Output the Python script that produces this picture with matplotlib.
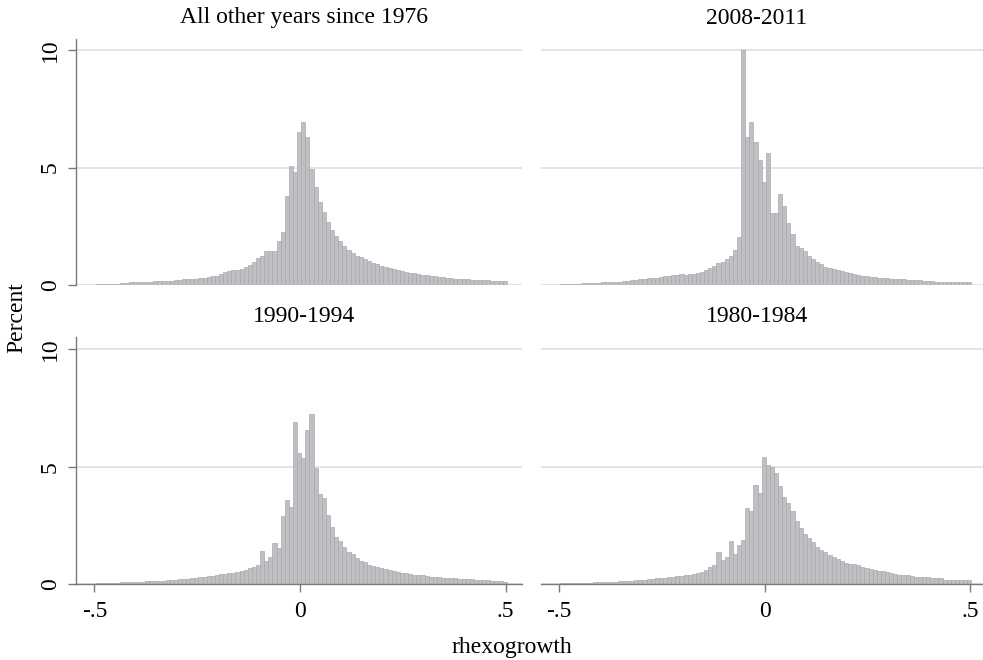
import numpy as np
import matplotlib
matplotlib.use("Agg")
import matplotlib.pyplot as plt

# ---------------- data (percent per bin of width 0.01) ----------------
bin_start = -0.497
bin_width = 0.01

titles = ["All other years since 1976", "2008-2011", "1990-1994", "1980-1984"]

pct_other = [
    0.04, 0.04, 0.04, 0.04, 0.04, 0.04, 0.10, 0.10, 0.11, 0.11,
    0.11, 0.12, 0.12, 0.13, 0.16, 0.17, 0.18, 0.18, 0.19, 0.21,
    0.22, 0.24, 0.24, 0.25, 0.26, 0.29, 0.31, 0.35, 0.38, 0.40,
    0.47, 0.55, 0.58, 0.62, 0.65, 0.70, 0.76, 0.87, 0.99, 1.13,
    1.23, 1.43, 1.44, 1.45, 1.89, 2.27, 3.80, 5.05, 4.80, 6.52,
    6.95, 6.30, 4.95, 4.15, 3.55, 3.10, 2.68, 2.35, 2.10, 1.87,
    1.67, 1.49, 1.35, 1.25, 1.18, 1.10, 1.03, 0.94, 0.88, 0.82,
    0.78, 0.74, 0.70, 0.65, 0.61, 0.57, 0.53, 0.49, 0.46, 0.43,
    0.41, 0.39, 0.37, 0.34, 0.32, 0.30, 0.28, 0.27, 0.26, 0.25,
    0.24, 0.23, 0.22, 0.21, 0.20, 0.20, 0.19, 0.19, 0.18, 0.15,
]

pct_2008 = [
    0.04, 0.04, 0.04, 0.04, 0.04, 0.09, 0.10, 0.10, 0.10, 0.10,
    0.11, 0.11, 0.12, 0.12, 0.14, 0.15, 0.17, 0.20, 0.22, 0.24,
    0.26, 0.28, 0.28, 0.30, 0.35, 0.37, 0.38, 0.41, 0.43, 0.46,
    0.42, 0.45, 0.48, 0.50, 0.55, 0.62, 0.72, 0.82, 0.92, 1.00,
    1.10, 1.22, 1.50, 2.05, 10.0, 6.31, 6.95, 6.10, 5.30, 4.40,
    5.63, 3.05, 3.05, 3.87, 3.38, 2.65, 2.18, 1.68, 1.56, 1.46,
    1.23, 1.09, 0.96, 0.88, 0.78, 0.74, 0.67, 0.62, 0.58, 0.55,
    0.51, 0.48, 0.43, 0.40, 0.37, 0.35, 0.33, 0.31, 0.30, 0.29,
    0.27, 0.25, 0.24, 0.24, 0.23, 0.23, 0.22, 0.21, 0.19, 0.18,
    0.17, 0.14, 0.14, 0.13, 0.13, 0.13, 0.12, 0.12, 0.12, 0.11,
]

pct_1990 = [
    0.04, 0.04, 0.04, 0.04, 0.04, 0.04, 0.10, 0.10, 0.10, 0.11,
    0.11, 0.11, 0.12, 0.12, 0.13, 0.15, 0.16, 0.17, 0.17, 0.18,
    0.21, 0.22, 0.23, 0.26, 0.28, 0.29, 0.33, 0.36, 0.37, 0.40,
    0.43, 0.44, 0.47, 0.49, 0.52, 0.55, 0.62, 0.68, 0.75, 0.83,
    1.40, 0.99, 1.15, 1.76, 1.55, 2.90, 3.58, 3.30, 6.90, 5.58,
    5.36, 6.55, 7.23, 4.95, 3.82, 3.66, 2.95, 2.45, 2.02, 1.84,
    1.57, 1.39, 1.28, 1.11, 1.01, 0.94, 0.83, 0.77, 0.74, 0.69,
    0.66, 0.60, 0.56, 0.54, 0.50, 0.47, 0.44, 0.41, 0.40, 0.38,
    0.34, 0.33, 0.32, 0.31, 0.28, 0.27, 0.26, 0.25, 0.23, 0.23,
    0.22, 0.21, 0.18, 0.17, 0.17, 0.17, 0.16, 0.16, 0.12, 0.10,
]

pct_1980 = [
    0.04, 0.04, 0.04, 0.04, 0.04, 0.04, 0.04, 0.04, 0.10, 0.10,
    0.10, 0.10, 0.10, 0.11, 0.13, 0.14, 0.15, 0.16, 0.17, 0.19,
    0.20, 0.22, 0.23, 0.25, 0.27, 0.28, 0.30, 0.32, 0.34, 0.36,
    0.38, 0.40, 0.45, 0.49, 0.53, 0.60, 0.74, 0.80, 1.38, 1.03,
    1.14, 1.84, 1.30, 1.67, 1.88, 3.26, 3.13, 4.23, 3.90, 5.41,
    5.08, 4.98, 4.73, 4.16, 3.73, 3.45, 3.10, 2.70, 2.40, 2.15,
    1.95, 1.80, 1.60, 1.47, 1.36, 1.25, 1.15, 1.08, 1.00, 0.92,
    0.88, 0.85, 0.80, 0.72, 0.70, 0.66, 0.62, 0.58, 0.55, 0.52,
    0.46, 0.44, 0.41, 0.40, 0.38, 0.34, 0.33, 0.33, 0.32, 0.30,
    0.28, 0.27, 0.25, 0.20, 0.20, 0.19, 0.19, 0.18, 0.18, 0.17,
]

series = [pct_other, pct_2008, pct_1990, pct_1980]

y_ticks = [0, 5, 10]
y_ticklabels = ["0", "5", "10"]
x_ticks = [-0.5, 0, 0.5]
x_ticklabels = ["-.5", "0", ".5"]
x_label = "rhexogrowth"
y_label = "Percent"

# ---------------- style ----------------
plt.rcParams['font.family'] = ['Liberation Serif', 'DejaVu Serif']
FS = 17
BAR_FACE = '#bfc0c4'
BAR_EDGE = '#a9aaae'
GRID = '#e2e2e2'
AXC = '#7a7a7a'

W, H = 983, 660
fig = plt.figure(figsize=(W / 100, H / 100), dpi=100)
fig.patch.set_facecolor('white')

panel_w = 446
lefts = [76, 540.5, 76, 540.5]
tops = [39, 39, 336.7, 336.7]
bottoms = [285, 285, 584.3, 584.3]
ytops = [10.47, 10.47, 10.53, 10.53]
title_x = [304, 757, 304, 757]
title_y = [18, 18, 317, 317]

edges = bin_start + bin_width * np.arange(len(pct_other))

for k in range(4):
    l, t, b = lefts[k], tops[k], bottoms[k]
    ax = fig.add_axes([l / W, (H - b) / H, panel_w / W, (b - t) / H])
    ax.set_xlim(-0.545, 0.54)
    ax.set_ylim(0, ytops[k])
    for yv in y_ticks:
        ax.axhline(yv, color=GRID, lw=1.3, zorder=0)
    ax.bar(edges, series[k], width=bin_width, align='edge',
           color=BAR_FACE, edgecolor=BAR_EDGE, linewidth=0.5, zorder=2)
    for s in ['top', 'right']:
        ax.spines[s].set_visible(False)
    is_left = (k % 2 == 0)
    is_bottom = (k >= 2)
    if is_left:
        ax.spines['left'].set_color(AXC)
        ax.spines['left'].set_linewidth(1.0)
        ax.set_yticks(y_ticks)
        ax.set_yticklabels(y_ticklabels, rotation=90, va='center', fontsize=FS)
        ax.tick_params(axis='y', length=6, width=1.0, color=AXC, pad=5)
    else:
        ax.spines['left'].set_visible(False)
        ax.set_yticks([])
    if is_bottom:
        ax.spines['bottom'].set_color(AXC)
        ax.spines['bottom'].set_linewidth(1.0)
        ax.set_xticks(x_ticks)
        ax.set_xticklabels(x_ticklabels, fontsize=FS)
        ax.tick_params(axis='x', length=6, width=1.0, color=AXC, pad=6)
    else:
        ax.spines['bottom'].set_visible(False)
        ax.set_xticks([])
    ax.set_facecolor('none')
    fig.text(title_x[k] / W, 1 - title_y[k] / H, titles[k], ha='center',
             va='center', fontsize=FS)

fig.text(17 / W, 1 - 318 / H, y_label, rotation=90, ha='center', va='center',
         fontsize=FS)
fig.text(512 / W, 1 - 648 / H, x_label, ha='center', va='center', fontsize=FS)

fig.savefig('out.png', dpi=100, facecolor='white')
